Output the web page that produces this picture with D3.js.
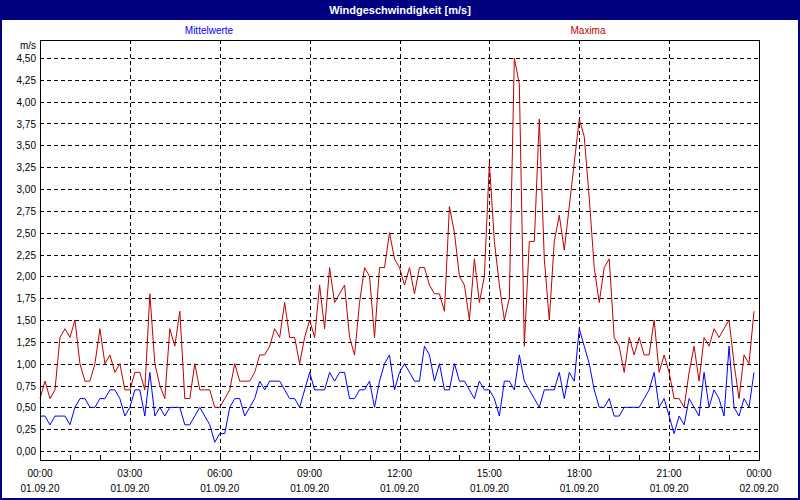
<!DOCTYPE html>
<html>
<head>
<meta charset="utf-8">
<script src="https://cdn.jsdelivr.net/npm/d3@7"></script>
<style>
  body { margin: 0; background: #fff; }
  svg { display: block; font-family: "Liberation Sans", Arial, sans-serif; }
</style>
</head>
<body>
<div id="chart"></div>
<script>
// 10-Minuten-Werte, 01.09.20 00:00 bis 23:50
const mittelwerte = [
  0.4, 0.4, 0.3, 0.4, 0.4, 0.4, 0.3, 0.5, 0.6, 0.6, 0.5, 0.5,
  0.6, 0.6, 0.7, 0.7, 0.6, 0.4, 0.5, 0.7, 0.7, 0.4, 0.9, 0.4,
  0.5, 0.4, 0.5, 0.5, 0.5, 0.3, 0.3, 0.4, 0.5, 0.4, 0.3, 0.1,
  0.2, 0.2, 0.5, 0.6, 0.6, 0.4, 0.5, 0.6, 0.8, 0.7, 0.8, 0.8,
  0.8, 0.7, 0.6, 0.6, 0.5, 0.7, 0.9, 0.7, 0.7, 0.7, 0.9, 0.8,
  0.9, 0.9, 0.6, 0.6, 0.7, 0.7, 0.8, 0.5, 0.8, 1.0, 1.1, 0.7,
  0.9, 1.0, 0.9, 0.8, 0.8, 1.2, 1.1, 0.8, 1.0, 0.7, 0.7, 1.0,
  0.8, 0.8, 0.7, 0.6, 0.8, 0.7, 0.7, 0.6, 0.4, 0.8, 0.8, 0.7,
  1.1, 0.8, 0.7, 0.6, 0.5, 0.7, 0.7, 0.7, 0.9, 0.6, 0.9, 0.8,
  1.4, 1.2, 1.0, 0.7, 0.5, 0.5, 0.6, 0.4, 0.4, 0.5, 0.5, 0.5,
  0.5, 0.6, 0.7, 0.9, 0.5, 0.6, 0.4, 0.2, 0.4, 0.3, 0.6, 0.5,
  0.4, 0.9, 0.5, 0.7, 0.6, 0.4, 1.2, 0.5, 0.4, 0.6, 0.5, 0.9
];

const maxima = [
  0.6, 0.8, 0.6, 0.7, 1.3, 1.4, 1.3, 1.5, 1.0, 0.8, 0.8, 1.0,
  1.4, 1.0, 1.1, 0.9, 1.0, 0.7, 0.7, 0.9, 0.9, 0.7, 1.8, 1.0,
  0.75, 0.6, 1.4, 1.2, 1.6, 0.6, 0.6, 1.0, 0.7, 0.7, 0.7, 0.5,
  0.5, 0.6, 0.7, 1.0, 0.8, 0.8, 0.8, 0.9, 1.1, 1.1, 1.2, 1.4,
  1.3, 1.7, 1.3, 1.3, 1.0, 1.3, 1.5, 1.3, 1.9, 1.4, 2.1, 1.7,
  1.8, 1.9, 1.3, 1.1, 1.7, 2.1, 2.0, 1.3, 2.1, 2.1, 2.5, 2.2,
  2.1, 1.9, 2.1, 1.8, 2.1, 2.1, 1.9, 1.8, 1.8, 1.6, 2.8, 2.5,
  2.0, 1.9, 1.5, 2.2, 1.7, 2.0, 3.3, 2.4, 1.9, 1.5, 1.75, 4.5,
  4.2, 1.2, 2.4, 2.4, 3.8, 2.2, 1.5, 2.4, 2.7, 2.3, 2.8, 3.3,
  3.8, 3.6, 2.9, 2.1, 1.7, 2.1, 2.2, 1.3, 1.2, 0.9, 1.3, 1.1,
  1.3, 1.1, 1.1, 1.5, 0.9, 1.1, 0.9, 0.6, 0.6, 0.5, 0.9, 1.2,
  0.8, 1.3, 1.2, 1.4, 1.3, 1.4, 1.5, 1.0, 0.6, 1.1, 1.0, 1.6
];

const yTicks = [0, 0.25, 0.5, 0.75, 1, 1.25, 1.5, 1.75, 2, 2.25,
                2.5, 2.75, 3, 3.25, 3.5, 3.75, 4, 4.25, 4.5];
const xStunden = [0, 3, 6, 9, 12, 15, 18, 21, 24];
const xZeiten = ["00:00", "03:00", "06:00", "09:00", "12:00", "15:00", "18:00", "21:00", "00:00"];
const xDaten = ["01.09.20", "01.09.20", "01.09.20", "01.09.20", "01.09.20",
                "01.09.20", "01.09.20", "01.09.20", "02.09.20"];

const width = 800;
const height = 500;
const plot = { left: 40, right: 759, top: 40, bottom: 460 };
const navy = '#000080';
const blau = '#0000ff';
const rot = '#c00000';

const svg = d3.select('#chart')
  .append('svg')
  .attr('width', width)
  .attr('height', height);

svg.append('rect')
  .attr('x', 1).attr('y', 1)
  .attr('width', width - 2).attr('height', height - 2)
  .attr('fill', '#fff')
  .attr('stroke', navy)
  .attr('stroke-width', 2);

svg.append('rect')
  .attr('x', 0).attr('y', 0)
  .attr('width', width).attr('height', 20)
  .attr('fill', navy);

svg.append('text')
  .attr('x', width / 2).attr('y', 14)
  .attr('text-anchor', 'middle')
  .attr('fill', '#fff')
  .attr('font-weight', 'bold')
  .attr('font-size', '11px')
  .text('Windgeschwindigkeit [m/s]');

// Legende
svg.append('text')
  .attr('x', 209).attr('y', 34)
  .attr('text-anchor', 'middle')
  .attr('fill', blau)
  .attr('font-size', '10px')
  .text('Mittelwerte');

svg.append('text')
  .attr('x', 588).attr('y', 34)
  .attr('text-anchor', 'middle')
  .attr('fill', rot)
  .attr('font-size', '10px')
  .text('Maxima');

const x = d3.scaleLinear()
  .domain([0, 24])
  .range([plot.left, plot.right]);

const y = d3.scaleLinear()
  .domain([0, 4.5])
  .range([451, 58]);

const stunde = (d, i) => i / 6;

// Gitter
svg.append('g')
  .selectAll('line')
  .data(yTicks)
  .join('line')
  .attr('x1', plot.left).attr('x2', plot.right)
  .attr('y1', d => Math.round(y(d)) + 0.5)
  .attr('y2', d => Math.round(y(d)) + 0.5)
  .attr('stroke', '#000')
  .attr('stroke-dasharray', '4,3')
  .attr('shape-rendering', 'crispEdges');

svg.append('g')
  .selectAll('line')
  .data(xStunden.slice(1, -1))
  .join('line')
  .attr('x1', d => Math.round(x(d)) + 0.5)
  .attr('x2', d => Math.round(x(d)) + 0.5)
  .attr('y1', plot.top).attr('y2', plot.bottom)
  .attr('stroke', '#000')
  .attr('stroke-dasharray', '4,3')
  .attr('shape-rendering', 'crispEdges');

// kleine Stundenstriche unten
svg.append('g')
  .attr('transform', `translate(0,${plot.bottom})`)
  .call(d3.axisTop(x).ticks(24).tickSize(5).tickFormat(''))
  .call(g => g.select('.domain').remove())
  .attr('shape-rendering', 'crispEdges');

// y-Beschriftung
svg.append('g')
  .selectAll('text')
  .data(yTicks)
  .join('text')
  .attr('x', 36)
  .attr('y', d => y(d) + 4)
  .attr('text-anchor', 'end')
  .attr('font-size', '10px')
  .attr('fill', '#000')
  .text(d => d3.format('.2f')(d).replace('.', ','));

svg.append('text')
  .attr('x', 36).attr('y', 49)
  .attr('text-anchor', 'end')
  .attr('font-size', '10px')
  .text('m/s');

// x-Beschriftung
const xl = svg.append('g')
  .selectAll('g')
  .data(xStunden)
  .join('g')
  .attr('transform', d => `translate(${x(d)},0)`);

xl.append('text')
  .attr('y', 477)
  .attr('text-anchor', 'middle')
  .attr('font-size', '10px')
  .text((d, i) => xZeiten[i]);

xl.append('text')
  .attr('y', 492)
  .attr('text-anchor', 'middle')
  .attr('font-size', '10px')
  .text((d, i) => xDaten[i]);

// Kurven
const linie = d3.line()
  .x((d, i) => x(stunde(d, i)))
  .y(d => y(d));

svg.append('path')
  .datum(mittelwerte)
  .attr('d', linie)
  .attr('fill', 'none')
  .attr('stroke', blau)
  .attr('stroke-width', 1);

svg.append('path')
  .datum(maxima)
  .attr('d', linie)
  .attr('fill', 'none')
  .attr('stroke', rot)
  .attr('stroke-width', 1);

// Rahmen
svg.append('rect')
  .attr('x', plot.left + 0.5).attr('y', plot.top + 0.5)
  .attr('width', plot.right - plot.left).attr('height', plot.bottom - plot.top)
  .attr('fill', 'none')
  .attr('stroke', '#000')
  .attr('shape-rendering', 'crispEdges');
</script>
</body>
</html>
